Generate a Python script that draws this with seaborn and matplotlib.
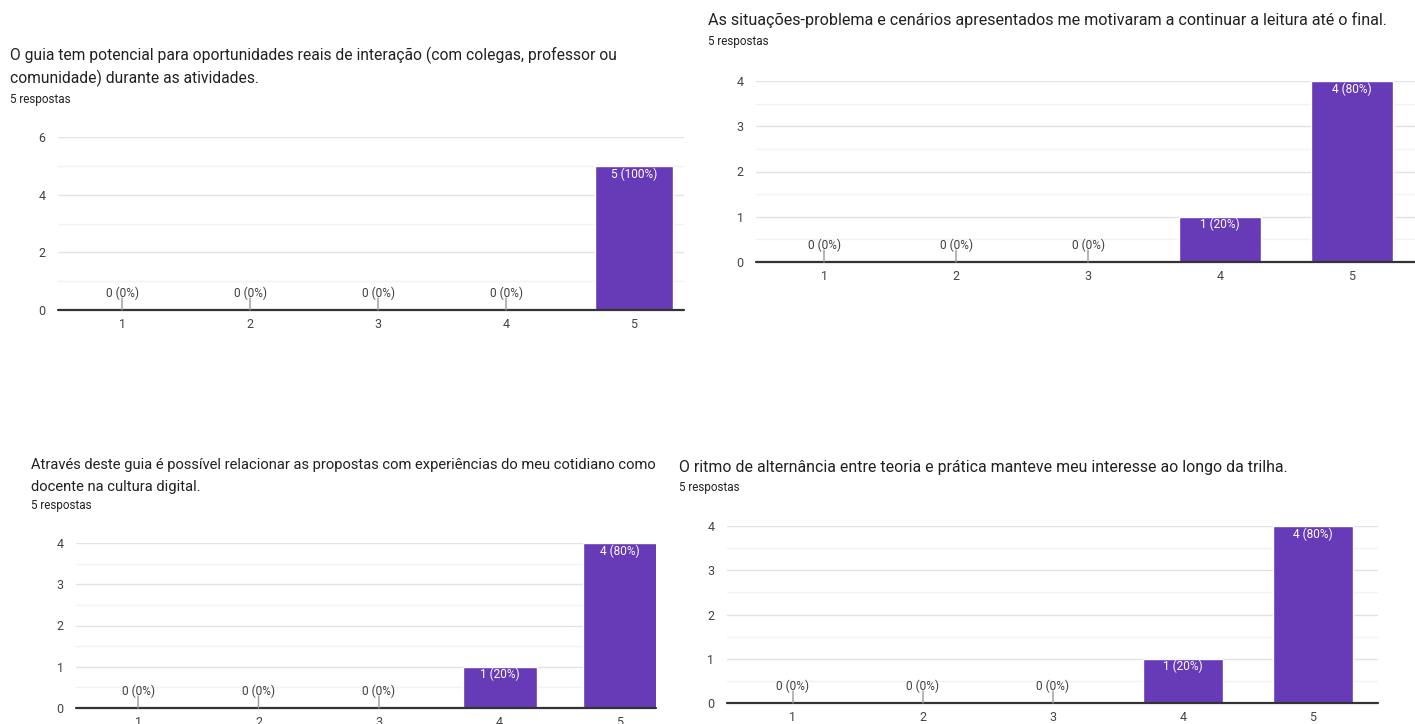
import matplotlib
matplotlib.use("Agg")
import matplotlib.pyplot as plt
import seaborn as sns
import pandas as pd
import numpy as np

# ---- data ----
categories = ["1", "2", "3", "4", "5"]
q1_title = ["O guia tem potencial para oportunidades reais de interação (com colegas, professor ou",
            "comunidade) durante as atividades."]
q1_counts = [0, 0, 0, 0, 5]
q1_labels = ["0 (0%)", "0 (0%)", "0 (0%)", "0 (0%)", "5 (100%)"]

q2_title = ["As situações-problema e cenários apresentados me motivaram a continuar a leitura até o final."]
q2_counts = [0, 0, 0, 1, 4]
q2_labels = ["0 (0%)", "0 (0%)", "0 (0%)", "1 (20%)", "4 (80%)"]

q3_title = ["Através deste guia é possível relacionar as propostas com experiências do meu cotidiano como",
            "docente na cultura digital."]
q3_counts = [0, 0, 0, 1, 4]
q3_labels = ["0 (0%)", "0 (0%)", "0 (0%)", "1 (20%)", "4 (80%)"]

q4_title = ["O ritmo de alternância entre teoria e prática manteve meu interesse ao longo da trilha."]
q4_counts = [0, 0, 0, 1, 4]
q4_labels = ["0 (0%)", "0 (0%)", "0 (0%)", "1 (20%)", "4 (80%)"]

subtitle = "5 respostas"

sns.set_theme(style="white")
plt.rcParams['font.family'] = ['Roboto', 'DejaVu Sans']

W, H = 1415, 724
fig = plt.figure(figsize=(W / 100, H / 100), dpi=100)
fig.patch.set_facecolor("white")

PURPLE = "#673AB7"
TITLE_C = "#202124"
TICK_C = "#444444"
PX = 72 / 100  # points per pixel


def ftext(x, y, s, size, color):
    fig.text(x / W, 1 - y / H, s, fontsize=size, color=color, ha="left", va="center")


def panel(title_lines, tsize, title_x, title_y0, line_gap, sub_y,
          left, right, top, bottom, first_center, spacing, bar_px,
          counts, labels, ymax, major_step, minor_step):
    for i, line in enumerate(title_lines):
        ftext(title_x, title_y0 + i * line_gap, line, tsize, TITLE_C)
    ftext(title_x, sub_y, subtitle, 8.4, TITLE_C)

    ax = fig.add_axes([left / W, 1 - bottom / H, (right - left) / W, (bottom - top) / H])
    df = pd.DataFrame({"cat": categories, "n": counts})
    sns.barplot(data=df, x="cat", y="n", color=PURPLE, saturation=1,
                width=bar_px / spacing, ax=ax, zorder=3)
    ax.set_xlim((left - first_center) / spacing, (right - first_center) / spacing)
    ax.set_ylim(0, ymax)
    ax.set_yticks(np.arange(0, ymax + 0.01, major_step))
    ax.set_yticks(np.arange(0, ymax + 0.01, minor_step), minor=True)
    ax.set_yticklabels([str(int(v)) for v in np.arange(0, ymax + 0.01, major_step)])
    ax.grid(axis="y", which="major", color="#e3e3e3", lw=1.0, zorder=0)
    ax.grid(axis="y", which="minor", color="#f2f2f2", lw=1.0, zorder=0)
    ax.grid(axis="x", visible=False)
    for sp in ax.spines.values():
        sp.set_visible(False)
    ax.axhline(0, color="#333333", lw=1.6, zorder=4, clip_on=False)
    ax.tick_params(axis="both", which="both", length=0, colors=TICK_C, labelsize=9)
    ax.tick_params(axis="x", pad=6)
    ax.tick_params(axis="y", pad=9)
    ax.set_xlabel("")
    ax.set_ylabel("")
    ax.patch.set_alpha(0)

    for i, (c, lab) in enumerate(zip(counts, labels)):
        if c == 0:
            ax.annotate("", xy=(i, 0), xytext=(0, 12 * PX), textcoords="offset points",
                        arrowprops=dict(arrowstyle="-", color="#999999", lw=1,
                                        shrinkA=0, shrinkB=0), zorder=5)
            ax.annotate(lab, xy=(i, 0), xytext=(0, 17 * PX), textcoords="offset points",
                        ha="center", va="center", fontsize=8.6, color="#3c4043")
        else:
            ax.annotate(lab, xy=(i, c), xytext=(0, -8 * PX), textcoords="offset points",
                        ha="center", va="center", fontsize=8.6, color="white", zorder=6)
    return ax


# top-left
panel(q1_title, 11.25, 10, 55, 23, 100,
      58, 684, 137, 310, 122, 128, 78,
      q1_counts, q1_labels, 6, 2, 1)
# top-right
panel(q2_title, 11.6, 708, 20, 23, 42,
      756, 1415, 81, 262, 824, 132, 82,
      q2_counts, q2_labels, 4, 1, 0.5)
# bottom-left
panel(q3_title, 10.65, 31, 465, 22, 506,
      76, 656, 543, 708, 138, 120.5, 74,
      q3_counts, q3_labels, 4, 1, 0.5)
# bottom-right
panel(q4_title, 11.45, 679, 467, 22, 488,
      727, 1378, 526, 703, 793, 130, 80,
      q4_counts, q4_labels, 4, 1, 0.5)

fig.savefig("out.png", dpi=100, facecolor="white")
